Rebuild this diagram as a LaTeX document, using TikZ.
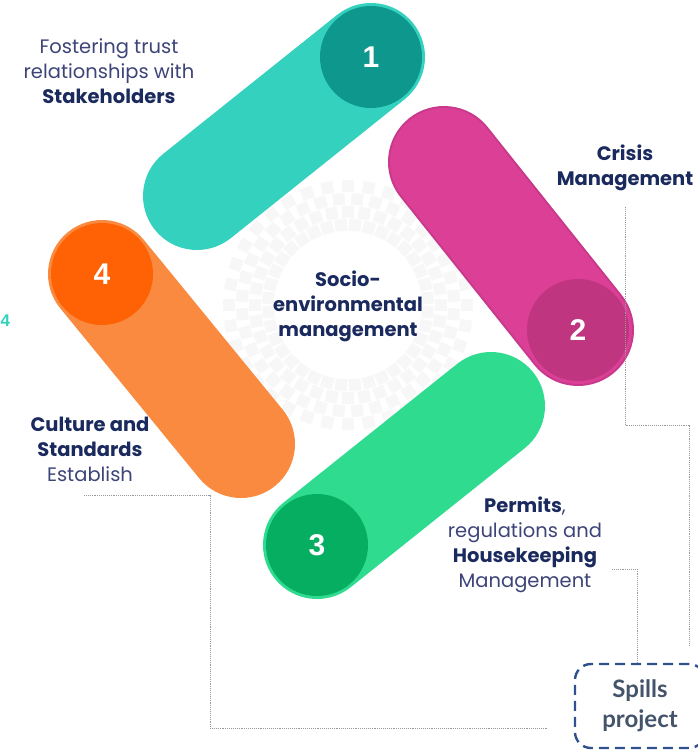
\documentclass[tikz,border=0pt]{standalone}
\usepackage{fontspec}
\setmainfont{Poppins}
\newfontfamily\numfont{Liberation Sans}
\newfontfamily\boxfont{Lato}
\usetikzlibrary{positioning}

\definecolor{navy}{HTML}{1B2A5E}
\definecolor{softnavy}{HTML}{3D4478}
\definecolor{tealA}{HTML}{33D1BE}
\definecolor{tealB}{HTML}{0E978C}
\definecolor{pinkA}{HTML}{DB3F96}
\definecolor{pinkB}{HTML}{C0357F}
\definecolor{pinkE}{HTML}{C7398A}
\definecolor{greenA}{HTML}{2EDB8F}
\definecolor{greenB}{HTML}{06AE62}
\definecolor{orangeA}{HTML}{F98A3F}
\definecolor{orangeB}{HTML}{FF6205}
\definecolor{boxblue}{HTML}{2F528F}
\definecolor{boxtext}{HTML}{44546A}

\tikzset{
  pill/.style={line width=108pt, line cap=round},
  badge/.style={circle, minimum size=102pt, inner sep=0pt, text=white,
    font=\numfont\bfseries\fontsize{30}{30}\selectfont},
  label/.style={align=center, text=softnavy, inner sep=0pt,
    font=\fontsize{19.5}{25}\selectfont},
  boldlabel/.style={label, text=navy, font=\bfseries\fontsize{19.5}{25}\selectfont},
  link/.style={gray!80, densely dotted, line width=0.9pt},
}

\begin{document}
\begin{tikzpicture}[x=1pt, y=-1pt]
  \useasboundingbox (0,0) rectangle (697,752);

  % rosette behind the middle text
  \foreach \r/\off in {80/0, 93/5, 106/0, 119/5}
    \foreach \a in {0,10,...,350}
      \fill[gray!6, rotate around={\a+\off+45:(348,305)}]
        (348+\r-6,299) rectangle (348+\r+6,311);

  % the four pills
  \draw[pill, tealA] (197,196) -- (371,57);
  \draw[pill, line width=112pt, pinkE] (444,162) -- (578,330);
  \draw[pill, pinkA] (444,162) -- (578,330);
  \draw[pill, greenA] (491,406) -- (317,545);
  \draw[pill, orangeA] (241,444) -- (102,274);

  \node[badge, fill=tealB] (n1) at (371,57) {1};
  \node[badge, fill=pinkB] (n2) at (578,330) {2};
  \node[badge, fill=greenB] (n3) at (317,545) {3};
  \node[badge, fill=orangeB] (n4) at (102,274) {4};

  \node[boldlabel] (core) at (348,306) {Socio-\\environmental\\management};

  \node[label] (stake) at (109,71)
    {Fostering trust\\relationships with\\\textbf{\color{navy}Stakeholders}};
  \node[boldlabel] (crisis) at (625,168) {Crisis\\Management};
  \node[label] (culture) at (90,449)
    {\textbf{\color{navy}Culture and}\\\textbf{\color{navy}Standards}\\Establish};
  \node[label] (permits) at (525,545)
    {\textbf{\color{navy}Permits},\\regulations and\\\textbf{\color{navy}Housekeeping}\\Management};
  \node[text=tealA, inner sep=0pt, anchor=west,
    font=\numfont\bfseries\fontsize{17}{17}\selectfont] (cut) at (0.5,321) {4};

  % spills box
  \node[draw=boxblue, line width=2.4pt, dash pattern=on 10pt off 6pt, rounded corners=16pt,
    minimum width=130pt, minimum height=84pt, align=center, text=boxtext,
    font=\boxfont\bfseries\fontsize{24}{30}\selectfont] (spills) at (640,706) {Spills\\project};

  % dotted leaders
  \coordinate (c1) at (625,207);
  \coordinate (c2) at (689,645);
  \coordinate (h1) at (612,569);
  \coordinate (e1) at (84,495);
  \coordinate (e2) at (547,728);
  \draw[link] (c1) |- (689,425) -- (c2);
  \draw[link] (h1) -| (spills.north -| 637,0);
  \draw[link] (e1) -| (210,728) -- (e2);
\end{tikzpicture}
\end{document}
